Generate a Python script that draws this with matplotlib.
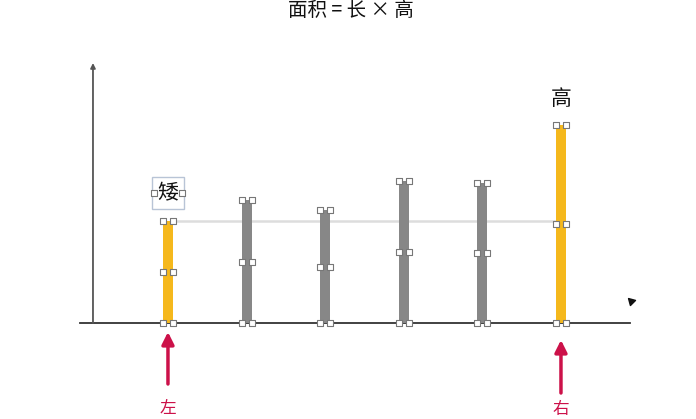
import matplotlib
matplotlib.use("Agg")
import matplotlib.pyplot as plt

plt.rcParams['font.family'] = ['Noto Sans CJK SC', 'DejaVu Sans']

# ======================
# DONNÉES
# ======================
positions = [0, 1, 2, 3, 4, 5]
heights = [102, 123, 113, 142, 140, 198]
bar_colors = ['#F5B81C', '#878787', '#878787', '#878787', '#878787', '#F5B81C']
title = '面积 = 长 × 高'
low_label = '矮'
high_label = '高'
left_label = '左'
right_label = '右'

RED = '#CC1149'
BAR_W = 0.127

fig = plt.figure(figsize=(6.96, 4.19), dpi=100)
ax = fig.add_axes([0, 0, 1, 1])
ax.set_xlim(-2.137, 6.718)
ax.set_ylim(-96, 323)
ax.axis('off')

# axes du dessin
ax.axhline(0, xmin=(-1.12 + 2.137) / 8.855, xmax=(5.88 + 2.137) / 8.855,
           color='#333333', lw=1.3, zorder=2)
ax.annotate('', xy=(-0.954, 260), xytext=(-0.954, 0),
            arrowprops=dict(arrowstyle='-|>', color='#555555', lw=1.3,
                            mutation_scale=7, shrinkA=0, shrinkB=0))

# ligne du niveau le plus bas
low = min(heights[0], heights[-1])
ax.plot([positions[0] + BAR_W / 2, positions[-1] - BAR_W / 2], [low, low],
        color='#DDDDDD', lw=1.8, zorder=1)

# barres
ax.bar(positions, heights, width=BAR_W, color=bar_colors, zorder=3)

# poignées de sélection
hx, hy = [], []
for p, h in zip(positions, heights):
    for y in (0, h / 2, h):
        hx += [p - BAR_W / 2, p + BAR_W / 2]
        hy += [y, y]
ax.scatter(hx, hy, marker='s', s=16, facecolor='white', edgecolor='#777777',
           linewidths=0.8, zorder=5)

# étiquettes 矮 / 高
ax.text(positions[0], heights[0] + 28, low_label, ha='center', va='center',
        fontsize=15, color='#111111', zorder=6,
        bbox=dict(boxstyle='square,pad=0.25', facecolor='white',
                  edgecolor='#B8C4D6', lw=1))
ax.scatter([positions[0] - 0.18, positions[0] + 0.18],
           [heights[0] + 28, heights[0] + 28], marker='s', s=16,
           facecolor='white', edgecolor='#777777', linewidths=0.8, zorder=7)
ax.text(positions[-1], heights[-1] + 26, high_label, ha='center', va='center',
        fontsize=15, color='#111111')

# flèches gauche / droite
ax.annotate('', xy=(positions[0], -9), xytext=(positions[0], -61),
            arrowprops=dict(arrowstyle='-|>', color=RED, lw=2.5,
                            mutation_scale=18, shrinkA=0, shrinkB=0))
ax.annotate('', xy=(positions[-1], -17), xytext=(positions[-1], -70),
            arrowprops=dict(arrowstyle='-|>', color=RED, lw=2.5,
                            mutation_scale=18, shrinkA=0, shrinkB=0))
ax.text(positions[0], -85, left_label, ha='center', va='center',
        fontsize=12, color=RED)
ax.text(positions[-1], -86, right_label, ha='center', va='center',
        fontsize=12, color=RED)

# titre
fig.text(0.504, 0.975, title, ha='center', va='center', fontsize=14,
         color='#111111')

# curseur de souris
ax.scatter([5.89], [22], marker=(3, 0, 45), s=36, color='#111111', zorder=8)

fig.savefig('out.png', dpi=100)
